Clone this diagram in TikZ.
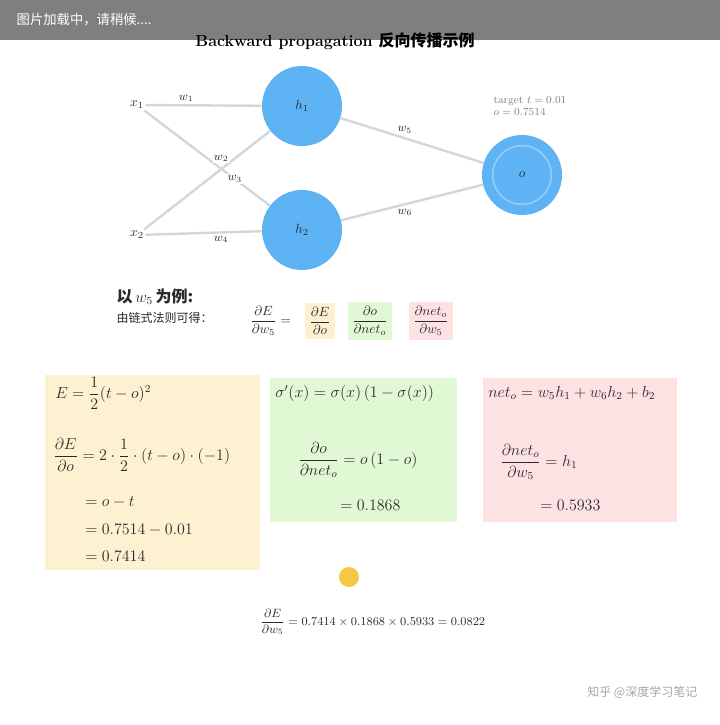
\documentclass[tikz,border=0pt]{standalone}
\usepackage{fontspec}
\usepackage{amsmath}
\newfontfamily\cjk{Noto Sans CJK SC}
\definecolor{nodeblue}{HTML}{5DB3F3}
\definecolor{edgegray}{HTML}{D6D6D6}
\definecolor{yelbg}{HTML}{FDF1D2}
\definecolor{grnbg}{HTML}{E1F8D4}
\definecolor{pnkbg}{HTML}{FDE2E3}
\definecolor{sunyel}{HTML}{F6C744}
\definecolor{txt}{HTML}{2A2A2A}
\begin{document}
\begin{tikzpicture}[x=0.75pt,y=-0.75pt,
  neuron/.style={circle,fill=nodeblue,minimum size=60pt,inner sep=0pt,text=txt,font=\normalsize},
  inp/.style={text=txt,font=\normalsize,inner sep=1pt},
  conn/.style={draw=edgegray,line width=1.8pt},
  wlbl/.style={fill=white,inner sep=1pt,text=txt,font=\small},
  ybox/.style={fill=yelbg,draw=none},
  gbox/.style={fill=grnbg,draw=none},
  pbox/.style={fill=pnkbg,draw=none},
  eq/.style={text=txt,anchor=west,inner sep=0pt,font=\large},
  chip/.style={inner sep=3pt,text=txt,font=\normalsize}]
\useasboundingbox (0,0) rectangle (720,725);
\fill[white] (0,0) rectangle (720,725);

% title
\node[font=\bfseries\large,text=black] (title) at (335,41) {Backward propagation {\cjk 反向传播示例}};

% network
\node[inp] (x1) at (137,105) {$x_1$};
\node[inp] (x2) at (137,235) {$x_2$};
\node[neuron] (h1) at (302,106) {$h_1$};
\node[neuron] (h2) at (302,230) {$h_2$};
\node[neuron] (o) at (522,175) {$o$};
\node[circle,draw=nodeblue!65!white,line width=1.2pt,minimum size=44pt] (oring) at (o.center) {};
\node[font=\footnotesize,text=gray,align=left] (otext) at (530,106) {target $t=0.01$\\ $o=0.7514$};

\draw[conn] (x1) -- node[wlbl,pos=0.35,above=1pt] (lw1) {$w_1$} (h1);
\draw[conn] (x1) -- node[wlbl,pos=0.72] (lw3) {$w_3$} (h2);
\draw[conn] (x2) -- node[wlbl,pos=0.72,left=3pt] (lw2) {$w_2$} (h1);
\draw[conn] (x2) -- node[wlbl,pos=0.65,below=1pt] (lw4) {$w_4$} (h2);
\draw[conn] (h1) -- node[wlbl,pos=0.45,above=2pt] (lw5) {$w_5$} (o);
\draw[conn] (h2) -- node[wlbl,pos=0.45,below=2pt] (lw6) {$w_6$} (o);

% chain rule row
\node[text=txt,font=\large,align=left,anchor=west] (lead) at (112,306) {{\cjk\bfseries 以}\,$w_5$\,{\cjk\bfseries 为例:}\\[1pt] {\cjk\small 由链式法则可得：}};
\node[eq,font=\normalsize] (dEdw) at (250,321) {$\dfrac{\partial E}{\partial w_5}=$};
\node[ybox,chip] (c1) at (320,321) {$\dfrac{\partial E}{\partial o}$};
\node[gbox,chip] (c2) at (370,321) {$\dfrac{\partial o}{\partial net_o}$};
\node[pbox,chip] (c3) at (431,321) {$\dfrac{\partial net_o}{\partial w_5}$};

% yellow box
\fill[ybox] (45,375) rectangle (260,570);
\node[eq] (y1) at (55,393) {$E=\dfrac{1}{2}(t-o)^2$};
\node[eq] (y2) at (53,455) {$\dfrac{\partial E}{\partial o}=2\cdot\dfrac{1}{2}\cdot(t-o)\cdot(-1)$};
\node[eq] (y3) at (85,502) {$=o-t$};
\node[eq] (y4) at (85,530) {$=0.7514-0.01$};
\node[eq] (y5) at (85,556) {$=0.7414$};

% green box
\fill[gbox] (270,378) rectangle (457,522);
\node[eq] (g1) at (275,393) {$\sigma'(x)=\sigma(x)\,(1-\sigma(x))$};
\node[eq] (g2) at (298,460) {$\dfrac{\partial o}{\partial net_o}=o\,(1-o)$};
\node[eq] (g3) at (340,505) {$=0.1868$};

% pink box
\fill[pbox] (483,378) rectangle (677,522);
\node[eq] (p1) at (488,393) {$net_o=w_5h_1+w_6h_2+b_2$};
\node[eq] (p2) at (500,462) {$\dfrac{\partial net_o}{\partial w_5}=h_1$};
\node[eq] (p3) at (540,505) {$=0.5933$};

% result
\node[circle,fill=sunyel,minimum size=15pt,inner sep=0pt] (sun) at (349,577) {};
\node[eq,font=\small] (res) at (260,622) {$\dfrac{\partial E}{\partial w_5}=0.7414\times0.1868\times0.5933=0.0822$};

% watermark
\node[text=gray!70,font=\cjk\small,anchor=east] (wm) at (702,692) {知乎 @深度学习笔记};

% loading banner
\fill[black,opacity=0.5] (0,0) rectangle (720,40);
\node[text=white,font=\cjk\normalsize,anchor=west] (banner) at (12,20) {图片加载中，请稍候....};
\end{tikzpicture}
\end{document}
